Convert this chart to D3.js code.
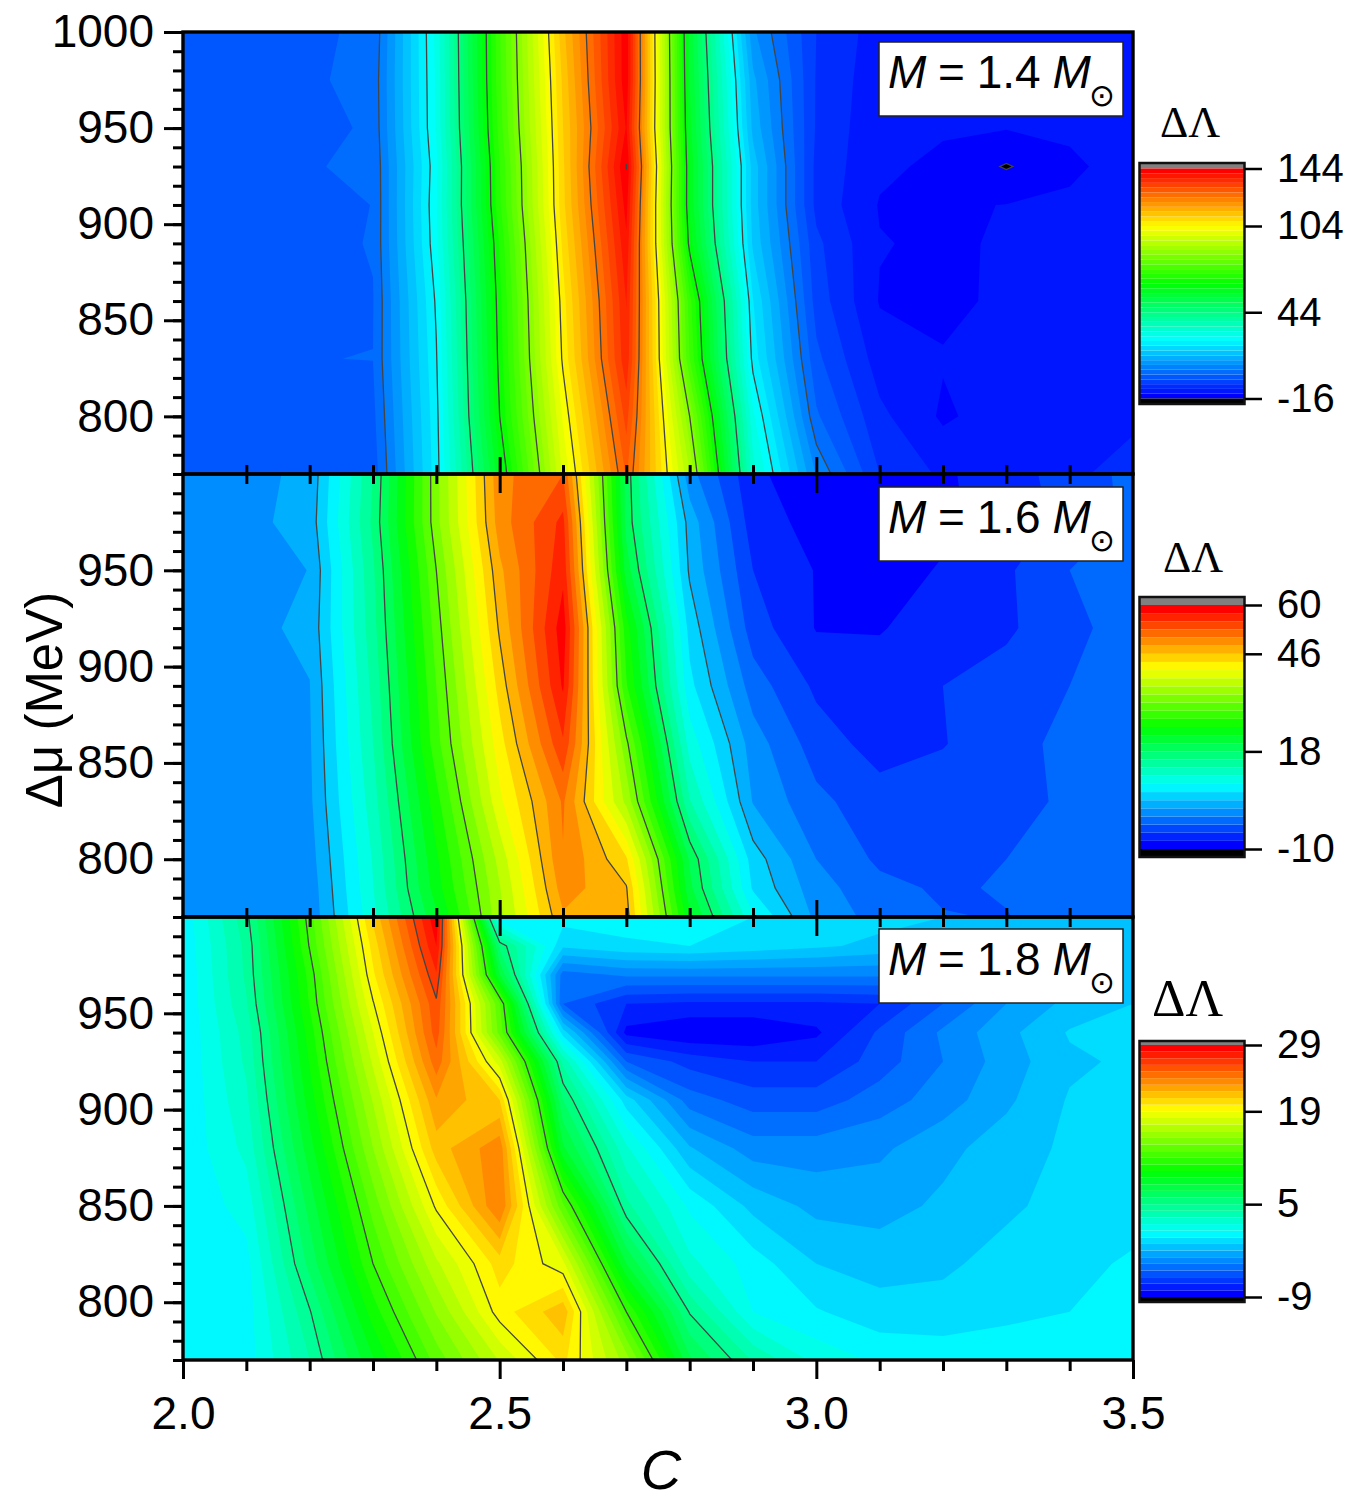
<!DOCTYPE html>
<html>
<head>
<meta charset="utf-8">
<script src="https://cdn.jsdelivr.net/npm/d3@7"></script>
<style>
  html, body { margin: 0; padding: 0; background: #fff; }
  svg { display: block; }
  text { font-family: "Liberation Sans", Arial, sans-serif; fill: #000; }
  .serif { font-family: "Liberation Serif", serif; }
</style>
</head>
<body>
<svg id="chart" width="1353" height="1505"></svg>
<script>
// Compactness C sampled on every panel's columns
const compactness = [2.0,2.1,2.2,2.3,2.4,2.5,2.6,2.7,2.8,2.9,3.0,3.1,3.2,3.3,3.4,3.5];

// Δμ rows (MeV) and ΔΛ values for M = 1.4 Msun
const mu14 = [770,800,830,860,890,910,930,950,975,1000];
const lambda14 = [
  [-1.5,-1.5,-1.5,-1.2,22.4,59.7,98,127.8,91,32,7,-6,-10,-10,-9.5,-9],
  [-1.5,-1.5,-1,-.2,22.9,64,101.2,132,84,28,1.2,-8.5,-13.2,-11,-10,-9.5],
  [-1.5,-1.5,.63,.7,23.7,65.4,104.8,136.5,74,22.7,-1.8,-11,-12.4,-11,-10.5,-10],
  [-1.5,-1.5,-1,.5,24.6,66.2,106,137.5,72,20.8,-4.1,-12.9,-13.5,-12,-11,-10],
  [-1.5,-1.5,-.5,.9,26.5,67.8,108.2,140,62.4,16.7,-5.2,-12.5,-13.2,-12.3,-11.5,-10],
  [-1.5,-1.5,-2,.8,27,70,109.7,142,60,15.8,-7,-12.9,-13,-12.6,-12,-10.5],
  [-1.5,-1.5,.55,1,26.5,70.5,110,144.2,60,15.8,-7,-12,-13.4,-16.3,-13.4,-11],
  [-1.5,-1.5,-1.1,1.5,27.7,72.3,110.6,141,58.5,13,-6.4,-12,-12.3,-12.5,-12,-11],
  [-1.5,-1.5,.19,1.7,27.9,73.3,111.5,143,57.3,11.5,-6.3,-11.5,-12,-12,-12,-11],
  [-1.5,-1.5,.28,1.1,28.3,73.6,113,143,56.4,8,-6,-11,-12,-12,-12,-11]
];

// Δμ rows (MeV) and ΔΛ values for M = 1.6 Msun
const mu16 = [770,785,800,830,860,890,920,950,975,1000];
const lambda16 = [
  [.2,.6,0,10.3,22.2,36,48,47,23.3,9,1,-1.6,-2.88,-3.1,-1.83,-1.83],
  [.2,.6,.2,10.9,23.9,36.5,49.5,46.2,21,6,.3,-2.3,-3.35,-2.76,-2.06,-1.83],
  [.3,.7,.6,11.2,24.6,37.5,50.5,44,20,5.2,-.67,-3.46,-3.35,-3,-1.83,-1.83],
  [.3,.8,1.2,12.3,26.5,40.8,51,36,13.5,1.5,-2.4,-4.4,-4.17,-3.7,-2.65,-2.06],
  [.3,.8,1.4,13.3,28.8,42.7,55,32.6,10,.5,-4.17,-6.27,-5.45,-3.93,-2.3,-2.06],
  [.3,.8,1.6,14,29.7,44.6,58,27.6,7,-1.83,-5.8,-6.73,-5.33,-4.17,-3,-2.3],
  [.3,1,2.2,14.8,30.8,46.4,59,26,5.5,-4.17,-7.8,-7.8,-6.73,-5.8,-3.35,-2.4],
  [.3,1,1.7,15.3,32,47.8,57,21.5,3.6,-5.33,-7.8,-8.8,-7.43,-5.7,-3,-2.4],
  [.3,1,2.6,16.2,33.5,49.5,56,19.5,3,-6.5,-8.5,-9.4,-8.25,-6.5,-4.75,-2.4],
  [.3,1,2.2,15.7,33.6,50,53,19.3,.2,-7.1,-9.4,-9.4,-8,-6.5,-4.17,-2.4]
];

// Δμ rows (MeV) and ΔΛ values for M = 1.8 Msun
const mu18 = [770,795,820,850,880,905,925,940,955,970,985,1000];
const lambda18 = [
  [.5,.5,4,8.9,13.4,17.1,20.3,15.5,7.2,3.9,1.7,.8,.6,.5,.4,.4],
  [.3,.5,4.9,10.5,15.1,19.5,21.7,12,4.9,1,.1,-.6,-.6,-.2,0,.2],
  [.2,.65,6.35,12,16.8,20.5,18.3,8,2.3,.5,-1,-1.4,-1.2,-.6,-.2,.1],
  [.2,1.4,7.4,13.4,19.2,24,13.2,4.3,.8,-1.3,-2.3,-2.4,-1.8,-1.2,-.6,-.3],
  [.2,2.3,8.6,15,21.5,23.7,8.2,2.2,-1.9,-3.5,-3.5,-3.2,-2.3,-1.5,-.8,-.6],
  [.1,2.8,9.5,16.1,22.9,21,6,-.5,-4.5,-5.5,-5.5,-4.5,-3.5,-2.2,-.9,-.7],
  [.1,3.2,10.1,17.2,24.6,17.5,3.7,-5,-6.4,-7,-7,-5.5,-4,-2.5,-1.2,-.8],
  [.1,3.4,10.5,18,25.5,13.6,-.5,-8.3,-8.9,-8.9,-8.2,-5.8,-3.8,-2.3,-.9,-.8],
  [.1,3.9,11.1,18.9,25.8,13.1,-5,-7,-7.2,-7.2,-7.2,-7,-5,-3,-1.7,-1],
  [.1,4.2,11.4,19.8,26.9,8,-4.5,-3.8,-3.8,-3.8,-3.8,-3.8,-4,-3,-2,-1.2],
  [.2,4.3,12.1,20.4,28,5.7,-.8,-.2,0,-.4,-.8,-1.3,-1.8,-2.2,-2.2,-1.5],
  [.3,4.7,12.5,21.2,28.8,.2,.4,.5,.4,0,-.3,-.6,-1,-1.6,-1.6,-1]
];

// Isolines and colour bar ticks per panel
const lines14 = [-16,4,24,44,64,84,104,124,144];
const lines16 = [4,18,32,46,60];
const lines18 = [5,12,19,26];
const barTicks14 = [-16,44,104,144];
const barTicks16 = [-10,18,46,60];
const barTicks18 = [-9,5,19,29];

const massLabels = ["1.4", "1.6", "1.8"];
const muTicksMajor = [800,850,900,950,1000];

// Panel table: data and layout kept side by side
const panels = [
  { mu: mu14, grid: lambda14, lines: lines14, ticks: barTicks14, min: -16, max: 144, bands: 48,
    mass: massLabels[0], top: 32,  bottom: 474,  labelMajor: muTicksMajor,
    box: 42, bar: { top: 163, zeroY: 398.5, maxY: 168.5, end: 404 },
    title: { x: 1160, y: 137, size: 44 } },
  { mu: mu16, grid: lambda16, lines: lines16, ticks: barTicks16, min: -10, max: 60, bands: 30,
    mass: massLabels[1], top: 474, bottom: 917,  labelMajor: muTicksMajor.slice(0, 4),
    box: 487, bar: { top: 597, zeroY: 849, maxY: 605, end: 857 },
    title: { x: 1163, y: 572, size: 44 } },
  { mu: mu18, grid: lambda18, lines: lines18, ticks: barTicks18, min: -9, max: 29, bands: 38,
    mass: massLabels[2], top: 917, bottom: 1360, labelMajor: muTicksMajor.slice(0, 4),
    box: 929, bar: { top: 1041, zeroY: 1297, maxY: 1045, end: 1302 },
    title: { x: 1152, y: 1016, size: 52 } }
];

const plotLeft = 183, plotRight = 1133;
const svg = d3.select("#chart");
const x = d3.scaleLinear().domain([2.0, 3.5]).range([plotLeft, plotRight]);

const ramp = d3.scaleLinear()
  .domain([0, .25, .5, .75, 1])
  .range(["#0000ff", "#00ffff", "#00ff00", "#ffff00", "#ff0000"])
  .interpolate(d3.interpolateRgb);

const minorC = d3.range(21, 35).filter(d => d % 5 !== 0).map(d => d / 10);
const minorMu = d3.range(770, 1001, 10);
const panelY = p => d3.scaleLinear().domain([770, 1000]).range([p.bottom, p.top]);
const bandLevels = p => d3.range(p.bands).map(i => p.min + i * (p.max - p.min) / p.bands);
const bandColor = (p, i) => ramp(i / (p.bands - 1));

const styleTicks = (g, width) => {
  g.select(".domain").remove();
  g.selectAll("line").attr("stroke", "#000").attr("stroke-width", width);
};

// Filled contours first, so ticks between panels stay on top of both neighbours
panels.forEach((p, idx) => {
  const y = panelY(p);
  const rowToMu = d3.scaleLinear().domain(d3.range(p.mu.length)).range(p.mu);
  const flat = p.grid.flat();

  // Grid coordinates from d3.contours put a sample at index + 0.5
  const project = d3.geoTransform({
    point(gx, gy) {
      this.stream.point(x(2 + (gx - .5) * .1), y(rowToMu(gy - .5)));
    }
  });
  const path = d3.geoPath(project);

  const clipId = "clip" + idx;
  svg.append("clipPath").attr("id", clipId)
    .append("rect").attr("x", plotLeft).attr("y", p.top)
    .attr("width", plotRight - plotLeft).attr("height", p.bottom - p.top);

  const field = svg.append("g").attr("clip-path", `url(#${clipId})`);
  field.append("rect").attr("x", plotLeft).attr("y", p.top)
    .attr("width", plotRight - plotLeft).attr("height", p.bottom - p.top).attr("fill", "#000");

  // Bands painted from lowest to highest, then the out-of-range grey
  const contours = d3.contours().size([compactness.length, p.mu.length]);
  field.selectAll("path.band")
    .data(contours.thresholds(bandLevels(p).concat([p.max]))(flat))
    .join("path").attr("class", "band")
    .attr("d", path)
    .attr("fill", (d, i) => i < p.bands ? bandColor(p, i) : "#808080");

  field.selectAll("path.iso")
    .data(contours.thresholds(p.lines)(flat))
    .join("path").attr("class", "iso")
    .attr("d", path)
    .attr("fill", "none")
    .attr("stroke", "#444")
    .attr("stroke-width", 1.3);
});

// Axes, frames, labels and colour bars
panels.forEach((p, idx) => {
  const y = panelY(p);

  svg.append("rect").attr("x", plotLeft).attr("y", p.top)
    .attr("width", plotRight - plotLeft).attr("height", p.bottom - p.top)
    .attr("fill", "none").attr("stroke", "#000").attr("stroke-width", 3.4);

  // Δμ axis
  const yMinor = svg.append("g").attr("transform", `translate(${plotLeft},0)`)
    .call(d3.axisLeft(y).tickValues(minorMu).tickSize(10).tickFormat(""));
  const yMajor = svg.append("g").attr("transform", `translate(${plotLeft},0)`)
    .call(d3.axisLeft(y).tickValues(p.labelMajor).tickSize(19).tickPadding(10).tickFormat(d3.format("d")));
  styleTicks(yMinor, 3);
  styleTicks(yMajor, 3);
  yMajor.selectAll("text").attr("font-size", 46).attr("font-family", "Liberation Sans");

  // C axis: straddling ticks between panels, outward ticks under the last one
  if (idx < 2) {
    styleTicks(svg.append("g").attr("transform", `translate(0,${p.bottom - 9})`)
      .call(d3.axisBottom(x).tickValues(minorC).tickSize(19).tickFormat("")), 3);
    styleTicks(svg.append("g").attr("transform", `translate(0,${p.bottom - 17})`)
      .call(d3.axisBottom(x).tickValues([2.5, 3.0]).tickSize(36).tickFormat("")), 3);
  } else {
    styleTicks(svg.append("g").attr("transform", `translate(0,${p.bottom})`)
      .call(d3.axisBottom(x).tickValues(minorC).tickSize(11).tickFormat("")), 3);
    const major = svg.append("g").attr("transform", `translate(0,${p.bottom})`)
      .call(d3.axisBottom(x).tickValues([2.0, 2.5, 3.0, 3.5]).tickSize(19).tickPadding(17).tickFormat(d3.format(".1f")));
    styleTicks(major, 3);
    major.selectAll("text").attr("font-size", 46).attr("font-family", "Liberation Sans");
  }

  // Mass label
  const label = svg.append("g").attr("transform", `translate(879,${p.box})`);
  label.append("rect").attr("width", 244).attr("height", 74)
    .attr("fill", "#fff").attr("stroke", "#222").attr("stroke-width", 1.5);
  const t = label.append("text").attr("x", 9).attr("y", 46).attr("font-size", 46)
    .attr("word-spacing", -1);
  t.append("tspan").attr("font-style", "italic").text("M");
  t.append("tspan").text(" = " + p.mass + " ");
  t.append("tspan").attr("font-style", "italic").text("M");
  label.append("text").attr("x", 223).attr("y", 63.5).attr("text-anchor", "middle")
    .attr("font-size", 31).style("font-family", "DejaVu Sans").text("\u2299");

  // Colour bar
  const barX = 1140, barW = 104;
  const b = p.bar;
  const step = (p.max - p.min) / p.bands;
  const barY = d3.scaleLinear().domain([p.min, p.max]).range([b.zeroY, b.maxY]);
  const bar = svg.append("g");
  bar.append("rect").attr("x", barX).attr("y", b.top).attr("width", barW)
    .attr("height", b.maxY - b.top).attr("fill", "#808080");
  bar.selectAll("rect.level").data(bandLevels(p)).join("rect").attr("class", "level")
    .attr("x", barX).attr("width", barW)
    .attr("y", d => barY(d + step))
    .attr("height", d => barY(d) - barY(d + step))
    .attr("fill", (d, i) => bandColor(p, i));
  bar.append("rect").attr("x", barX).attr("y", b.zeroY).attr("width", barW)
    .attr("height", b.end - b.zeroY).attr("fill", "#000");
  bar.append("rect").attr("x", barX - .5).attr("y", b.top).attr("width", barW + 1)
    .attr("height", b.end - b.top).attr("fill", "none").attr("stroke", "#111").attr("stroke-width", 2.5);

  const barAxis = svg.append("g").attr("transform", `translate(${barX + barW + 1},0)`)
    .call(d3.axisRight(barY).tickValues(p.ticks).tickSize(17).tickPadding(15).tickFormat(String));
  styleTicks(barAxis, 2.5);
  barAxis.selectAll("text").attr("font-size", 40).attr("font-family", "Liberation Sans");

  svg.append("text").attr("class", "serif")
    .attr("x", p.title.x).attr("y", p.title.y)
    .attr("font-size", p.title.size).text("\u0394\u039B");
});

// Axis titles
svg.append("text").attr("transform", "translate(62,700) rotate(-90)")
  .attr("text-anchor", "middle").attr("font-size", 51).text("\u0394\u03BC (MeV)");
svg.append("text").attr("x", 661).attr("y", 1489).attr("text-anchor", "middle")
  .attr("font-size", 56).attr("font-style", "italic").text("C");
</script>
</body>
</html>
